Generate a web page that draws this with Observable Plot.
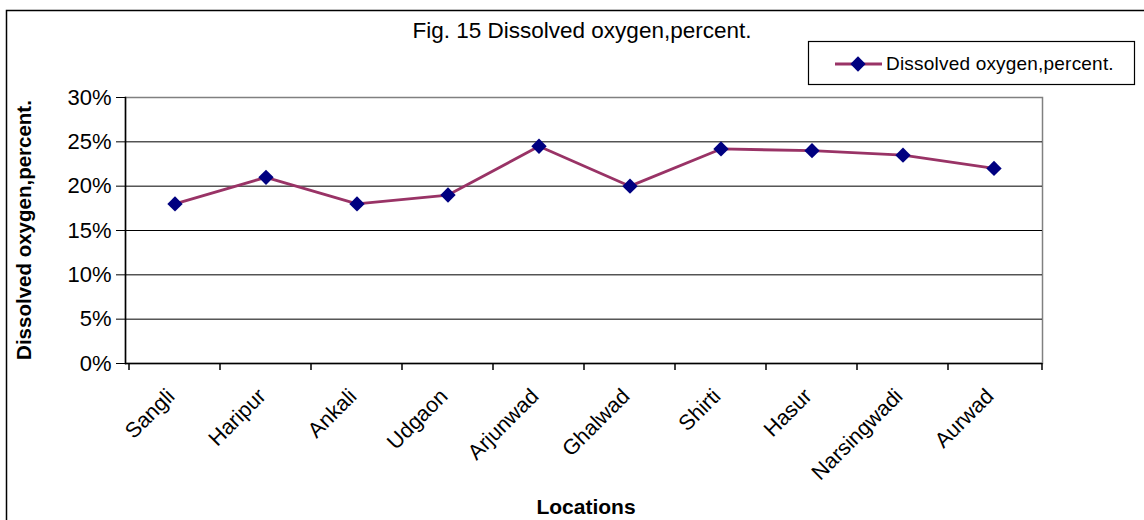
<!DOCTYPE html>
<html>
<head>
<meta charset="utf-8">
<script src="https://cdn.jsdelivr.net/npm/d3@7"></script>
<script src="https://cdn.jsdelivr.net/npm/@observablehq/plot@0.6"></script>
<style>
  html, body { margin: 0; padding: 0; background: #fff; }
  svg { font-family: "Liberation Sans", Arial, sans-serif; }
</style>
</head>
<body>
<div id="chart"></div>
<script>
const locations = ["Sangli", "Haripur", "Ankali", "Udgaon", "Arjunwad", "Ghalwad", "Shirti", "Hasur", "Narsingwadi", "Aurwad"];
const dissolvedOxygen = [0.18, 0.21, 0.18, 0.19, 0.245, 0.20, 0.242, 0.24, 0.235, 0.22];
const yTicks = [0, 0.05, 0.10, 0.15, 0.20, 0.25, 0.30];
const titleText = "Fig. 15 Dissolved oxygen,percent.";
const seriesName = "Dissolved oxygen,percent.";
const yTitle = "Dissolved oxygen,percent.";
const xTitle = "Locations";

const data = locations.map((location, i) => ({location, value: dissolvedOxygen[i]}));
const lineColor = "#993366";
const markerColor = "#000080";

const chart = Plot.plot({
  width: 1144,
  height: 520,
  marginLeft: 125,
  marginRight: 102,
  marginTop: 97,
  marginBottom: 157,
  style: {fontFamily: "'Liberation Sans', Arial, sans-serif", color: "#000", background: "#fff"},
  x: {type: "band", domain: locations, padding: 0, axis: null},
  y: {domain: [0, 0.30], axis: null},
  marks: [
    Plot.frame({stroke: "#808080", strokeWidth: 1.5}),
    Plot.ruleY(yTicks.slice(1, -1), {stroke: "#000", strokeWidth: 1}),
    Plot.ruleY([0], {stroke: "#000", strokeWidth: 1.5}),
    Plot.frame({anchor: "left", stroke: "#000", strokeWidth: 1.5}),
    Plot.axisY({ticks: yTicks, tickFormat: d3.format(".0%"), tickSize: 9, tickPadding: 5, fontSize: 22, label: null, stroke: "#000"}),
    Plot.text(locations, {x: d => d, frameAnchor: "bottom", rotate: -45, textAnchor: "end", lineAnchor: "bottom", dy: 34, dx: 1, fontSize: 21.5, fill: "#000"}),
    Plot.line(data, {x: "location", y: "value", stroke: lineColor, strokeWidth: 2.8}),
    Plot.dot(data, {x: "location", y: "value", symbol: "diamond2", r: 6.9, fill: markerColor, stroke: null})
  ]
});

document.getElementById("chart").appendChild(chart);
const svg = d3.select(chart);

// category boundary ticks from the Plot x scale
const xs = chart.scale("x");
const ys = chart.scale("y");
const y0 = ys.apply(0);
const bounds = locations.map(l => xs.apply(l)).concat([xs.range[1]]);
svg.append("g").selectAll("line").data(bounds).join("line")
  .attr("x1", d => d).attr("x2", d => d)
  .attr("y1", y0).attr("y2", y0 + 7)
  .attr("stroke", "#000").attr("stroke-width", 1.5);

// outer chart border
svg.append("rect")
  .attr("x", 6.5).attr("y", 10.5).attr("width", 1160).attr("height", 530)
  .attr("fill", "none").attr("stroke", "#000").attr("stroke-width", 1.5);

// title
svg.append("text")
  .attr("x", 582).attr("y", 38).attr("text-anchor", "middle")
  .attr("font-size", 22.5).attr("fill", "#000").text(titleText);

// y-axis title
svg.append("text")
  .attr("transform", "translate(31,230) rotate(-90)")
  .attr("text-anchor", "middle").attr("font-size", 20.5).attr("font-weight", "bold")
  .attr("fill", "#000").text(yTitle);

// x-axis title
svg.append("text")
  .attr("x", 586).attr("y", 514).attr("text-anchor", "middle")
  .attr("font-size", 21).attr("font-weight", "bold").attr("fill", "#000").text(xTitle);

// legend
const lg = svg.append("g");
lg.append("rect").attr("x", 808.5).attr("y", 41.5).attr("width", 326).attr("height", 43)
  .attr("fill", "#fff").attr("stroke", "#000").attr("stroke-width", 1.2);
lg.append("line").attr("x1", 835).attr("x2", 882).attr("y1", 64).attr("y2", 64)
  .attr("stroke", lineColor).attr("stroke-width", 2.8);
lg.append("path").attr("transform", "translate(858,64)")
  .attr("d", d3.symbol(d3.symbolDiamond2, Math.PI * 6.9 * 6.9)())
  .attr("fill", markerColor);
lg.append("text").attr("x", 886).attr("y", 70).attr("text-anchor", "start")
  .attr("font-size", 19).attr("letter-spacing", 0.2)
  .attr("fill", "#000").text(seriesName);
</script>
</body>
</html>
